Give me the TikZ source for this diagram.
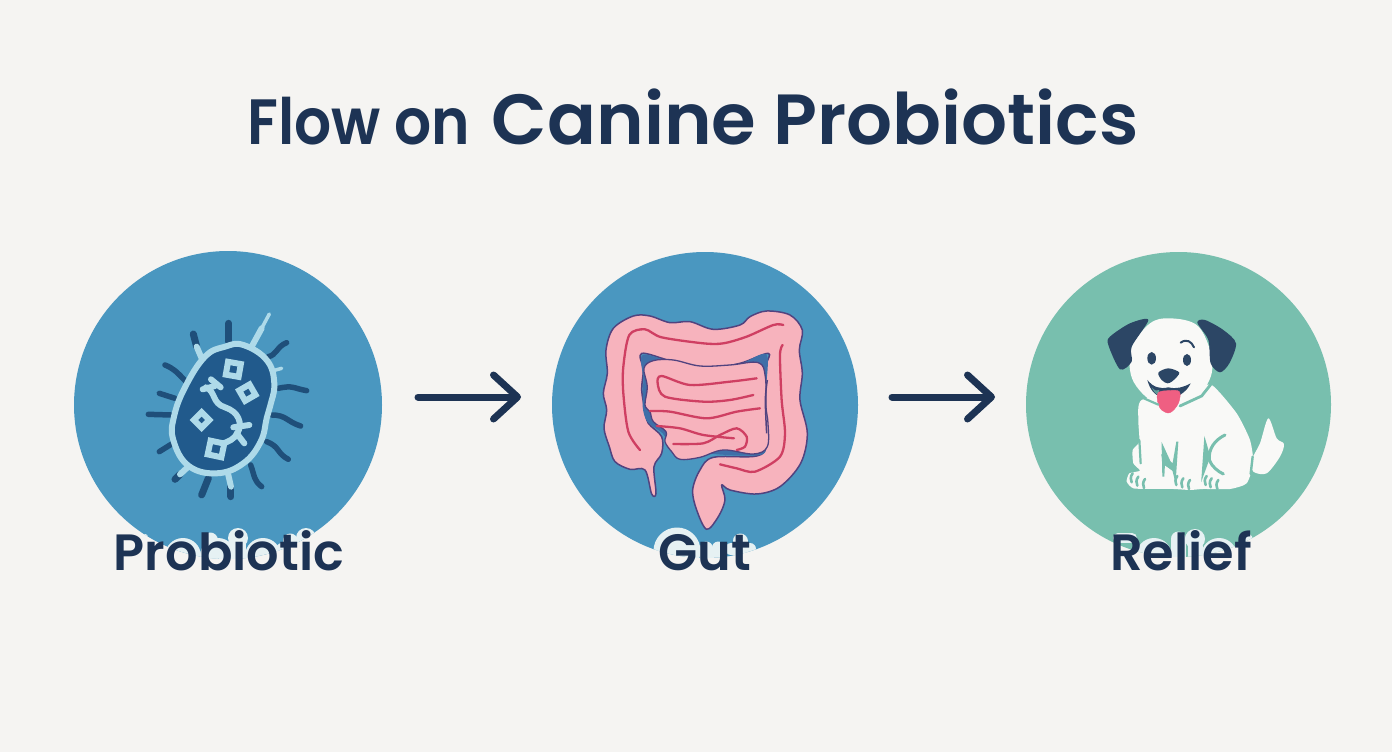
\documentclass[tikz,border=0pt]{standalone}
\usepackage{fontspec}
\setmainfont{Poppins}
\usetikzlibrary{arrows.meta}
\definecolor{bgc}{HTML}{F5F4F2}
\definecolor{navy}{HTML}{1D3354}
\definecolor{cblue}{HTML}{4A97C0}
\definecolor{cgreen}{HTML}{78BFAE}
\definecolor{bdark}{HTML}{215A8C}
\definecolor{blight}{HTML}{AEDAE9}
\definecolor{bflag}{HTML}{1F4F7A}
\definecolor{gpink}{HTML}{F7B3BD}
\definecolor{gline}{HTML}{CF3F62}
\definecolor{gedge}{HTML}{51437F}
\definecolor{ghole}{HTML}{3F6FA8}
\definecolor{dwhite}{HTML}{F9F9F7}
\definecolor{dear}{HTML}{2C4665}
\definecolor{dtongue}{HTML}{EF5F82}
\definecolor{haloc}{HTML}{E6F1F3}
\tikzset{
 disc/.style={circle,inner sep=0pt,minimum size=#1},
 lab/.style={text=navy,font=\fontsize{51}{51}\selectfont\fontspec{Poppins SemiBold},inner sep=0pt,anchor=base},
 flow/.style={draw=navy,line width=7pt,line cap=round,-{Straight Barb[length=24pt,width=44pt,line cap=round,round]}},
 halo/.style={draw=haloc,fill=haloc,line width=#1,line cap=round,line join=round},
 fl/.style={draw=bflag,line width=7pt,line cap=round},
 fll/.style={draw=blight,line width=6pt,line cap=round,line join=round},
 sq/.style={draw=blight,fill=bdark,line width=6pt,line join=miter},
 rl/.style={draw=gline,line width=2.3pt,line cap=round},
 tl/.style={draw=cgreen,line width=2pt,line cap=round},
}
\begin{document}
\begin{tikzpicture}[x=1pt,y=-1pt]
\useasboundingbox (0,0) rectangle (1392,752);
\fill[bgc] (0,0) rectangle (1392,752);
\node[inner sep=0pt,anchor=base,text=navy] (title) at (693,144)
 {\fontsize{64}{64}\selectfont\fontspec[FakeStretch=0.91]{Poppins SemiBold}Flow on\hspace{0.34em}\fontsize{71}{71}\selectfont\fontspec[FakeStretch=1.017]{Poppins SemiBold}Canine Probiotics};
\node[disc=308pt,fill=cblue] (c1) at (228,405) {};
\node[disc=306pt,fill=cblue] (c2) at (705,405) {};
\node[disc=305pt,fill=cgreen] (c3) at (1178.5,404.5) {};
\coordinate (a1s) at (418,397); \coordinate (a1e) at (521,397);
\coordinate (a2s) at (892,397); \coordinate (a2e) at (995,397);
\draw[flow] (a1s) -- (a1e);
\draw[flow] (a2s) -- (a2e);
% bacterium
\begin{scope}[shift={(130pt,-300pt)},x=0.3333pt,y=-0.3333pt]
\draw[fl] (200,140)--(190,102);
\draw[fl] (296,125)--(296,70);
\draw[fl,line width=5.5pt] (415,170)..controls (440,165) and (440,140)..(470,128);
\draw[fl,line width=5.5pt] (445,265)..controls (490,255) and (490,265)..(530,272);
\draw[fl,line width=5.5pt] (425,345)..controls (470,345) and (470,365)..(512,378);
\draw[fl,line width=5.5pt] (410,425)..controls (450,440) and (440,460)..(475,478);
\draw[fl,line width=5.5pt] (362,495)..controls (375,530) and (370,540)..(395,560);
\draw[fl] (303,560)--(303,590);
\draw[fl] (235,535)--(215,585);
\draw[fl] (150,523)--(135,538);
\draw[fl,line width=5.5pt] (125,432)--(88,455);
\draw[fl,line width=5.5pt] (122,345)--(55,343);
\draw[fl,line width=5.5pt] (135,295)--(88,280);
\draw[fl,line width=5.5pt] (168,245)..controls (140,215) and (130,205)..(105,195);
\draw[fll] (215,175)--(200,140);
\draw[fll] (365,140)--(395,85);
\draw[fll,line width=3.5pt] (395,85)--(418,42);
\draw[fll,line width=3.5pt] (430,212)--(455,205);
\draw[fll] (295,525)--(303,560);
\draw[fll] (175,500)--(150,523);
\draw[draw=blight,fill=bdark,line width=6pt] plot[smooth cycle,tension=0.7] coordinates {(340,135)(410,180)(433,250)(420,320)(410,355)(392,425)(340,490)(260,520)(175,497)(130,420)(132,350)(165,262)(225,170)(285,140)};
\draw[fll] (228,262)..controls (258,275) and (245,310)..(285,322)..controls (325,335) and (340,370)..(322,400)..controls (312,418) and (295,425)..(280,430);
\draw[fll] (243,238)--(272,262);
\draw[fll] (218,268)--(255,258);
\draw[fll] (310,382)--(358,375);
\draw[fll] (320,400)--(343,430);
\node[sq,rotate=-10,minimum size=13pt,inner sep=0pt] (s1) at (310,208) {};
\node[sq,rotate=30,minimum size=12pt,inner sep=0pt] (s2) at (352,278) {};
\node[sq,rotate=45,minimum size=11pt,inner sep=0pt] (s3) at (215,360) {};
\node[sq,rotate=-12,minimum size=14pt,inner sep=0pt] (s4) at (258,447) {};
\end{scope}
% gut
\begin{scope}[shift={(590pt,-300pt)},x=0.3333pt,y=-0.3333pt]
\draw[fill=gpink,draw=gedge,line width=1.5pt,line join=round] plot[smooth cycle,tension=0.55] coordinates {(185,582)(165,510)(120,508)(75,485)(58,440)(42,385)(50,330)(40,280)(52,220)(48,150)(70,85)(130,48)(180,48)(240,68)(300,65)(370,88)(450,75)(480,50)(530,33)(600,45)(637,90)(628,150)(637,220)(630,300)(652,400)(632,490)(570,560)(500,582)(420,570)(395,555)(405,600)(385,650)(350,688)(320,630)(308,570)(330,510)(370,472)(500,468)(530,430)(526,300)(528,200)(535,160)(450,190)(350,205)(250,185)(155,160)(160,210)(155,270)(165,330)(175,370)(215,410)(215,460)(192,500)(198,580)};
\fill[ghole] plot[smooth cycle] coordinates {(158,165)(250,188)(350,208)(450,192)(530,165)(525,300)(528,430)(510,465)(370,462)(250,440)(218,400)(172,365)(158,320)(160,240)};
\draw[fill=gpink,draw=gedge,line width=1.3pt] plot[smooth cycle,tension=0.6] coordinates {(162,205)(190,182)(250,180)(330,198)(420,195)(505,188)(526,230)(528,320)(534,370)(532,440)(490,462)(400,450)(330,472)(270,478)(245,455)(225,425)(228,395)(190,365)(180,335)(165,315)(172,260)};
\draw[draw=gedge,line width=1.5pt] plot[smooth] coordinates {(532,240)(526,300)(530,400)};
\draw[rl] plot[smooth] coordinates {(150,450)(115,395)(100,280)(100,200)(118,105)(165,88)(215,112)(340,130)(400,130)(470,110)(550,75)(580,75)};
\draw[rl] plot[smooth] coordinates {(578,135)(570,165)(575,300)(585,400)(570,470)(495,515)(440,505)(390,493)};
\draw[rl] plot[smooth] coordinates {(500,235)(420,245)(300,255)(215,228)(203,250)(225,290)(340,305)(420,300)(490,285)};
\draw[rl] plot[smooth] coordinates {(180,333)(240,335)(350,355)(440,335)(510,325)};
\draw[rl] plot[smooth] coordinates {(200,378)(270,385)(340,405)(432,415)};
\draw[rl] plot[smooth] coordinates {(250,432)(340,430)(390,405)(440,385)(470,410)(465,440)(440,450)};
\end{scope}
% dog
\begin{scope}[shift={(1090pt,-300pt)},x=0.3333pt,y=-0.3333pt]
\fill[dwhite] plot[smooth cycle,tension=0.5] coordinates {(490,515)(530,520)(570,470)(582,432)(560,415)(535,355)(510,430)(485,480)};
\fill[dwhite] plot[smooth cycle,tension=0.35] coordinates {(155,300)(145,360)(148,425)(128,450)(130,490)(150,512)(118,520)(110,545)(130,565)(190,567)(250,567)(300,570)(340,567)(420,567)(470,550)(490,490)(480,420)(440,340)(365,255)(300,270)};
\draw[tl,line width=2.4pt] (488,470)--(482,522);
\fill[dwhite] plot[smooth cycle,tension=0.6] coordinates {(125,140)(180,70)(240,55)(320,75)(360,150)(365,220)(330,280)(260,315)(190,305)(140,260)(120,210)};
\fill[dear] plot[smooth cycle,tension=0.5] coordinates {(175,60)(120,70)(60,110)(55,135)(90,208)(125,185)(125,140)};
\fill[dear] plot[smooth cycle,tension=0.5] coordinates {(322,68)(345,60)(400,90)(438,130)(418,190)(390,217)(362,190)(355,120)};
\fill[dear] (185,175) ellipse[x radius=13,y radius=19];
\fill[dear] (291,180) ellipse[x radius=12,y radius=18];
\draw[draw=dear,line width=2pt,line cap=round] (272,128)..controls (290,115) and (305,125)..(312,142);
\fill[dear] plot[smooth cycle,tension=0.5] coordinates {(205,218)(235,205)(268,218)(248,243)(232,250)(215,240)};
\fill[dear] (172,240)..controls (180,270) and (195,285)..(210,290)--(270,285)..controls (285,275) and (295,265)..(302,250)..controls (280,262) and (260,268)..(235,262)..controls (210,268) and (190,262)..(172,240)--cycle;
\fill[cgreen!70!dear] (185,262)..controls (195,272) and (200,275)..(208,270)--(205,285)..controls (195,282) and (190,272)..(185,262)--cycle;
\draw[fill=dtongue,draw=dtongue] plot[smooth cycle,tension=0.6] coordinates {(205,278)(235,272)(268,275)(265,310)(240,338)(215,330)(203,305)};
\draw[tl,line width=2.2pt] (150,290)--(205,314);
\draw[tl,line width=2.8pt] (270,318)--(335,288)--(365,250);
\draw[tl,line width=2.2pt] (148,420)--(152,490);
\draw[tl,fill=cgreen] (218,440)--(220,530)--(222,490)--(250,510)--cycle;
\draw[tl,fill=cgreen] (218,470)--(222,490)--(250,510)--(255,530)--(262,425)--(250,495)--cycle;
\draw[tl,fill=cgreen] (345,425)--(338,525)--(358,470)--cycle;
\draw[tl,line width=3pt] (405,405)..controls (375,420) and (355,445)..(358,480)..controls (365,500) and (385,515)..(400,522);
\foreach \x/\y in {128/520,145/530,165/537,262/528,280/535,300/540,350/528,365/535,385/540}{
 \draw[tl,line width=2.6pt] (\x,\y)..controls (\x-8,\y+10) and (\x-6,\y+20)..(\x-3,\y+27);
}
\end{scope}
% label halos, kept inside the discs
\begin{scope}
\clip (228,405) circle (154);
\draw[halo=6pt] (130,537)--(145,537);
\fill[haloc] (183,556) circle (18);
\draw[halo=15pt] (210,540)--(210,562);
\fill[haloc] (218,556) circle (18);
\draw[halo=15pt] (238,543)--(238,562);
\fill[haloc] (238,538) circle (10);
\fill[haloc] (263,556) circle (18);
\draw[halo=15pt] (290,541)--(290,562);
\draw[halo=12pt] (282,549)--(298,549);
\draw[halo=15pt] (306,547)--(306,562);
\fill[haloc] (306,538) circle (10);
\end{scope}
\begin{scope}
\clip (705,405) circle (153);
\draw[halo=5pt] (677,551) circle (21);
\draw[halo=13pt] (706,548)--(706,562);
\draw[halo=13pt] (718,548)--(718,562);
\draw[halo=15pt] (740,541)--(740,562);
\draw[halo=12pt] (731,549)--(750,549);
\end{scope}
\begin{scope}
\clip (1178.5,404.5) circle (152.5);
\draw[halo=10pt] (1118,538)--(1132,538);
\fill[haloc] (1154,556) circle (18);
\draw[halo=15pt] (1178,539)--(1178,562);
\draw[halo=15pt] (1195,547)--(1195,562);
\fill[haloc] (1195,539) circle (10);
\fill[haloc] (1219,556) circle (18);
\draw[halo=14pt] (1246,540)--(1242,560);
\end{scope}
\node[lab] (l1) at (229,570) {Probiotic};
\node[lab] (l2) at (705,570) {Gut};
\node[lab] (l3) at (1181,570) {Relief};
\end{tikzpicture}
\end{document}
